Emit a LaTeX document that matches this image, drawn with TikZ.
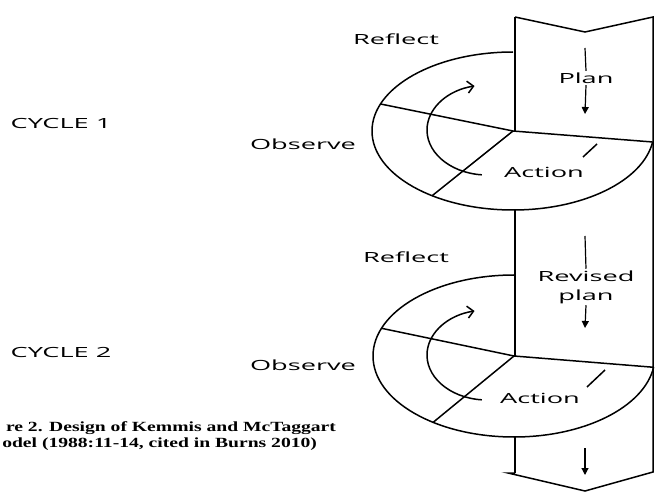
\documentclass[tikz,border=0pt]{standalone}
\usepackage{fontspec}
\setmainfont{Liberation Serif}
\newfontfamily\labelfont{Open Sans}
\usetikzlibrary{arrows.meta,calc}
\begin{document}
\begin{tikzpicture}[x=1pt,y=-1pt,line width=1.5pt,
  lbl/.style={font=\labelfont\fontsize{14}{19}\selectfont,xscale=1.94,inner sep=1pt,align=center},
  capt/.style={font=\bfseries\fontsize{14}{16}\selectfont,inner sep=0pt,anchor=east,xscale=1.40},
  downarrow/.style={-{Triangle[width=7pt,length=7pt]},line width=1.2pt},
  turnarrow/.style={-{Straight Barb[length=6pt,width=12pt]},line width=1.5pt}]
\useasboundingbox (0,0) rectangle (657,492);
% column outline
\coordinate (tl) at (515,17);
\coordinate (tn) at (585,32);
\coordinate (tr) at (653,17);
\coordinate (br) at (653,472);
\coordinate (bv) at (585,491);
\coordinate (bf) at (508,473);
\coordinate (bl) at (515,473);
\draw (tl) -- (tn) -- (tr) -- (br) -- (bv) -- (bf) -- (bl);
% cycle 1
\coordinate (c1) at (513,131);
\coordinate (e1top) at (513,52);
\coordinate (e1bot) at (515,210);
\draw (tl) -- (515,131);
\draw (e1top) arc[start angle=270,end angle=8,x radius=141,y radius=79] coordinate (e1r);
\coordinate (e1ul) at ($(c1)+(200:141 and 79)$);
\coordinate (e1ll) at ($(c1)+(125:141 and 79)$);
\draw (e1ul) -- (c1) -- (e1r);
\draw (c1) -- (e1ll);
\draw[turnarrow] ($(487,130)+(95:60 and 45)$) arc[start angle=95,end angle=258,x radius=60,y radius=45];
\coordinate (d1a) at (597,144);
\coordinate (d1b) at (583,157);
\draw (d1a) -- (d1b);
% cycle 2
\coordinate (c2) at (514,356);
\coordinate (e2top) at (514,275);
\draw (e1bot) -- (515,356);
\draw (e2top) arc[start angle=270,end angle=8,x radius=141,y radius=81] coordinate (e2r);
\coordinate (e2ul) at ($(c2)+(200:141 and 81)$);
\coordinate (e2ll) at ($(c2)+(125:141 and 81)$);
\draw (e2ul) -- (c2) -- (e2r);
\draw (c2) -- (e2ll);
\draw[turnarrow] ($(487,355)+(95:60 and 45)$) arc[start angle=95,end angle=258,x radius=60,y radius=45];
\coordinate (d2a) at (605,370);
\coordinate (d2b) at (587,387);
\draw (d2a) -- (d2b);
\draw (515,437) -- (bl);
% labels
\node[lbl] (reflect1) at (396,39) {Reflect};
\node[lbl] (plan) at (586,78) {Plan};
\node[lbl] (observe1) at (303,144) {Observe};
\node[lbl] (action1) at (544,172) {Action};
\node[lbl] (cycle1) at (61,124) {CYCLE 1};
\node[lbl] (reflect2) at (406,257) {Reflect};
\node[lbl] (revised) at (586,287) {Revised\\plan};
\node[lbl] (observe2) at (303,365) {Observe};
\node[lbl] (action2) at (540,398) {Action};
\node[lbl] (cycle2) at (61,352) {CYCLE 2};
% arrows in column
\coordinate (p1a) at (585,48);
\coordinate (p1b) at (585,114);
\draw[line width=1.2pt] (p1a) -- (plan.north);
\draw[downarrow] (plan.south) -- (p1b);
\coordinate (p2a) at (585,236);
\coordinate (p2b) at (585,328);
\draw[line width=1.2pt] (p2a) -- (revised.north);
\draw[downarrow] (revised.south) -- (p2b);
\coordinate (p3a) at (585,448);
\coordinate (p3b) at (585,475);
\draw[downarrow] (p3a) -- (p3b);
% caption
\node[capt] (cap1) at (337,428) {re 2. Design of Kemmis and McTaggart};
\node[capt] (cap2) at (318,444) {odel (1988:11-14, cited in Burns 2010)};
\end{tikzpicture}
\end{document}
